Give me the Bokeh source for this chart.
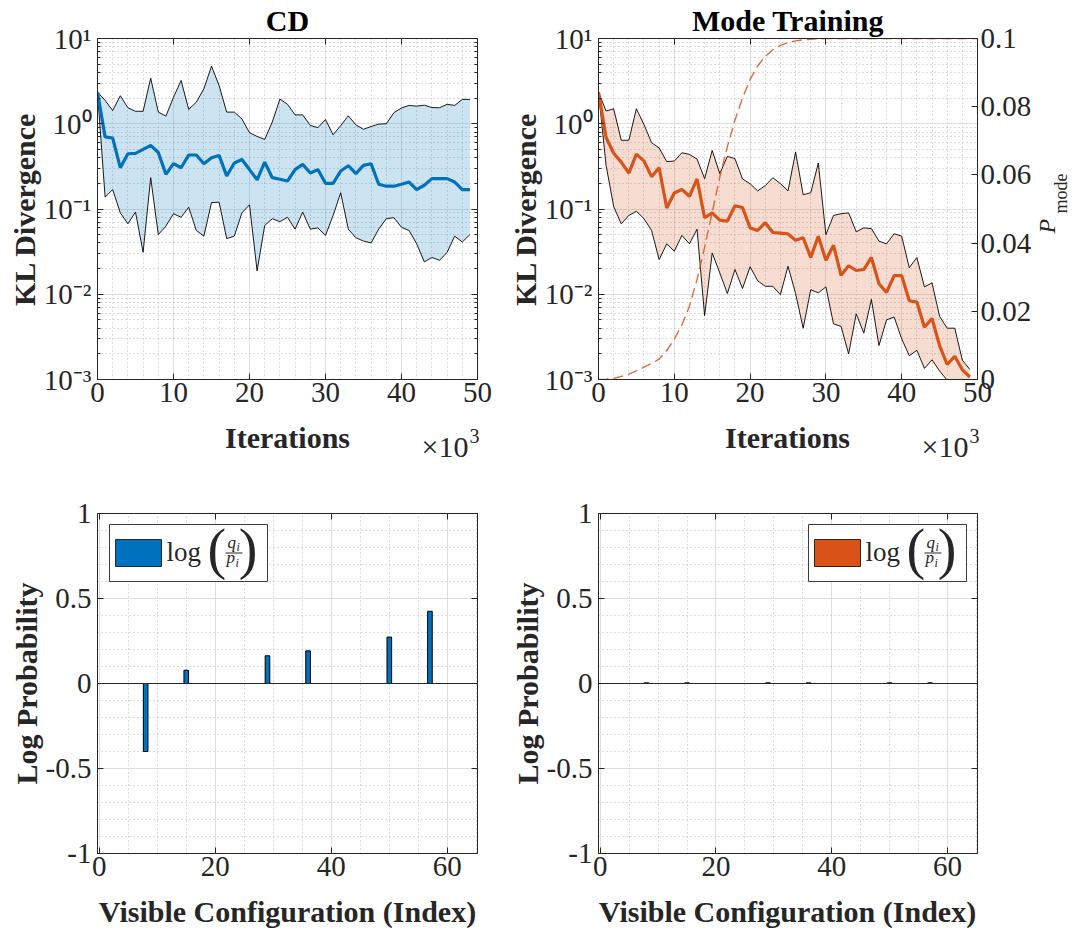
from bokeh.plotting import figure
from bokeh.layouts import row, column
from bokeh.models import (Range1d, LinearAxis, LogAxis, FixedTicker, LinearScale,
                          CustomJSTickFormatter, Label, BoxAnnotation, Span)
from bokeh.embed import file_html
from bokeh.resources import INLINE

# ---------------- data ----------------
iterations = list(range(50))  # in units of 10^3

cd_mean = [2.35, 0.70, 0.68, 0.305, 0.445, 0.45, 0.50, 0.557, 0.46, 0.255,
           0.34, 0.305, 0.43, 0.43, 0.34, 0.40, 0.425, 0.244, 0.346, 0.38,
           0.29, 0.22, 0.355, 0.233, 0.223, 0.213, 0.29, 0.334, 0.264, 0.29,
           0.20, 0.20, 0.279, 0.322, 0.26, 0.325, 0.34, 0.195, 0.185, 0.185,
           0.195, 0.207, 0.169, 0.19, 0.227, 0.227, 0.227, 0.207, 0.169, 0.169]
cd_upper = [2.35, 1.88, 1.43, 2.13, 1.54, 1.40, 1.40, 3.43, 1.37, 1.23,
            2.05, 3.22, 1.47, 1.79, 2.57, 4.74, 2.81, 1.37, 1.37, 1.14,
            0.785, 0.71, 0.655, 1.05, 1.95, 1.69, 1.27, 1.27, 0.956, 0.90,
            1.12, 0.743, 0.95, 1.24, 0.97, 0.86, 0.93, 0.99, 1.0, 1.35,
            1.53, 1.64, 1.61, 1.65, 1.55, 1.54, 1.69, 1.64, 1.93, 1.93]
cd_lower = [2.35, 0.138, 0.169, 0.090, 0.067, 0.092, 0.031, 0.233, 0.050, 0.063,
            0.088, 0.080, 0.105, 0.056, 0.048, 0.119, 0.12, 0.045, 0.048, 0.090,
            0.112, 0.0188, 0.064, 0.077, 0.071, 0.080, 0.058, 0.092, 0.058, 0.060,
            0.049, 0.084, 0.155, 0.058, 0.046, 0.042, 0.040, 0.058, 0.077, 0.079,
            0.061, 0.056, 0.039, 0.024, 0.027, 0.025, 0.031, 0.048, 0.041, 0.050]

mt_mean = [2.35, 0.69, 0.45, 0.355, 0.264, 0.44, 0.365, 0.24, 0.305, 0.103,
           0.154, 0.169, 0.141, 0.225, 0.079, 0.090, 0.074, 0.072, 0.109, 0.104,
           0.060, 0.056, 0.069, 0.053, 0.052, 0.051, 0.043, 0.046, 0.027, 0.048,
           0.025, 0.0375, 0.0167, 0.0216, 0.019, 0.0195, 0.027, 0.0133, 0.0105, 0.0165,
           0.0165, 0.0084, 0.0081, 0.0041, 0.0052, 0.0025, 0.0015, 0.00187, 0.0013, 0.00107]
mt_upper = [2.35, 1.41, 1.50, 0.64, 0.64, 1.50, 0.98, 0.60, 0.52, 0.36,
            0.365, 0.457, 0.437, 0.385, 0.227, 0.487, 0.26, 0.414, 0.39, 0.225,
            0.198, 0.163, 0.188, 0.233, 0.198, 0.163, 0.466, 0.147, 0.155, 0.346,
            0.050, 0.084, 0.088, 0.090, 0.054, 0.060, 0.059, 0.042, 0.039, 0.0513,
            0.048, 0.0205, 0.027, 0.0122, 0.0136, 0.0055, 0.0040, 0.0040, 0.00169, 0.00131]
mt_lower = [2.35, 0.325, 0.107, 0.067, 0.084, 0.094, 0.077, 0.056, 0.0255, 0.039,
            0.032, 0.049, 0.039, 0.058, 0.0056, 0.0305, 0.0178, 0.0102, 0.0195, 0.0117,
            0.021, 0.0144, 0.0124, 0.0124, 0.0099, 0.0213, 0.0102, 0.0040, 0.0113, 0.0104,
            0.0122, 0.0045, 0.0042, 0.0020, 0.0059, 0.0035, 0.0087, 0.0025, 0.0050, 0.0054,
            0.0030, 0.0019, 0.0022, 0.00135, 0.0017, 0.00126, 0.00098, 0.00094, 0.0008, 0.0007]

pmode_iter = list(range(51))
p_mode = [0.0000, 0.0001, 0.0003, 0.0009, 0.0016, 0.0025, 0.0036, 0.0047, 0.0060, 0.0085,
          0.0118, 0.0160, 0.0215, 0.0293, 0.0388, 0.0490, 0.0593, 0.0683, 0.0760, 0.0826,
          0.0880, 0.0920, 0.0947, 0.0967, 0.0980, 0.0988, 0.0993, 0.0996, 0.0998, 0.0999,
          0.1000, 0.1000, 0.1000, 0.1000, 0.1000, 0.1000, 0.1000, 0.1000, 0.1000, 0.1000,
          0.1000, 0.1000, 0.1000, 0.1000, 0.1000, 0.1000, 0.1000, 0.1000, 0.1000, 0.1000,
          0.1000]

config_index = [8, 15, 29, 36, 50, 57]
cd_log_ratio = [-0.40, 0.078, 0.163, 0.192, 0.273, 0.425]
mt_log_ratio = [0.004, 0.004, 0.004, 0.004, 0.004, 0.004]

# tick positions
iter_major = [0, 10, 20, 30, 40, 50]
iter_minor = [v for v in range(0, 51, 2) if v % 10]
kl_major = [1e-3, 1e-2, 1e-1, 1e0, 1e1]
kl_minor = [m * 10.0 ** e for e in range(-3, 1) for m in range(2, 10)]
pm_major = [0, 0.02, 0.04, 0.06, 0.08, 0.1]
cfg_major = [0, 20, 40, 60]
cfg_minor = [v for v in range(5, 66, 5) if v % 20]
lp_major = [-1, -0.5, 0, 0.5, 1]
lp_minor = [round(-1 + 0.1 * k, 1) for k in range(21) if k % 5]

# ---------------- style ----------------
FONT = "Liberation Serif"
AX = "#262626"
BLUE = "#0072BD"
ORANGE = "#D95319"
TICK_FS = "29px"
LAB_FS = "30px"

LOG_CODE = """
const sup = {"-": "\\u207B", "0": "\\u2070", "1": "\\u00B9", "2": "\\u00B2", "3": "\\u00B3"};
const e = Math.round(Math.log10(tick));
return "10" + String(e).split("").map(c => sup[c]).join("");
"""
NUM_CODE = "return String(Math.round(tick * 100) / 100);"
EMPTY_CODE = "return '';"

W_LEFT, W_RIGHT, W_STRIP = 505, 529, 39
H_TOP, H_TOP_STRIP, H_BOT, H_BOT_STRIP = 420, 60, 412, 42


def style_axis(ax, show=True, standoff=6):
    ax.axis_line_color = AX
    ax.axis_line_width = 1
    ax.major_tick_line_color = AX
    ax.minor_tick_line_color = AX
    ax.major_tick_in = 6
    ax.major_tick_out = 0
    ax.minor_tick_in = 0
    ax.minor_tick_out = 0
    ax.major_label_text_font = FONT
    ax.major_label_text_color = AX
    ax.major_label_text_font_size = TICK_FS if show else "0px"
    ax.major_label_standoff = standoff if show else 0
    ax.axis_label_text_font = FONT
    ax.axis_label_text_font_size = LAB_FS
    ax.axis_label_text_font_style = "bold"
    ax.axis_label_text_color = AX
    ax.axis_label_standoff = 0


def style_grid(p):
    for g in p.grid:
        g.grid_line_color = "#dedede"
        g.grid_line_width = 1
        g.minor_grid_line_color = "#b8b8b8"
        g.minor_grid_line_dash = "1 3"
        g.minor_grid_line_width = 1
    p.outline_line_color = AX
    p.outline_line_width = 1
    p.outline_line_alpha = 1
    p.background_fill_color = "white"
    p.border_fill_color = "white"


def add_text(p, text, x, y, size, style="normal", align="left", angle=0.0):
    # (x, y) is the centre line of the text box, in pixels from the frame's
    # bottom-left corner
    p.add_layout(Label(x=x, y=y, x_units="screen", y_units="screen", text=text,
                       text_font=FONT, text_font_size=size,
                       text_font_style=style, text_color=AX,
                       text_align=align, text_baseline="middle",
                       angle=angle))


def strip(w, h):
    s = figure(width=w, height=h, x_range=Range1d(0, w), y_range=Range1d(0, h),
               title=None, output_backend="svg", toolbar_location=None,
               x_axis_location=None, y_axis_location=None,
               min_border_left=0, min_border_right=0,
               min_border_top=0, min_border_bottom=0, frame_align=False)
    s.grid.visible = False
    s.outline_line_color = None
    s.background_fill_color = "white"
    s.border_fill_color = "white"
    return s


def kl_figure(title, mean, upper, lower, color, first):
    if first:
        w, bl, br = W_LEFT, 97, 28
    else:
        w, bl, br = W_RIGHT, 92, W_RIGHT - 92 - 380
    p = figure(width=w, height=H_TOP, title=title,
               x_range=Range1d(0, 50), y_range=Range1d(1e-3, 10),
               y_axis_type="log", output_backend="svg", toolbar_location=None,
               min_border_left=bl, min_border_right=br,
               min_border_top=38, min_border_bottom=H_TOP - 38 - 341)
    p.title.align = "center"
    p.title.text_font = FONT
    p.title.text_font_size = LAB_FS
    p.title.text_font_style = "bold"
    p.title.text_color = "black"
    p.title.standoff = 3
    p.title.offset = 0

    p.xaxis.ticker = FixedTicker(ticks=iter_major, minor_ticks=iter_minor)
    p.yaxis.ticker = FixedTicker(ticks=kl_major, minor_ticks=kl_minor)
    p.yaxis.formatter = CustomJSTickFormatter(code=LOG_CODE)
    p.yaxis.axis_label = "KL Divergence"
    style_axis(p.xaxis[0], standoff=3)
    style_axis(p.yaxis[0], standoff=6)
    p.yaxis[0].minor_tick_in = 3

    top = LinearAxis(ticker=FixedTicker(ticks=iter_major),
                     formatter=CustomJSTickFormatter(code=EMPTY_CODE))
    style_axis(top, show=False)
    p.add_layout(top, "above")

    if first:
        right = LogAxis(ticker=FixedTicker(ticks=kl_major, minor_ticks=kl_minor),
                        formatter=CustomJSTickFormatter(code=EMPTY_CODE))
        style_axis(right, show=False)
        right.minor_tick_in = 3
        p.add_layout(right, "right")
    else:
        p.extra_y_ranges = {"pm": Range1d(0, 0.1)}
        p.extra_y_scales = {"pm": LinearScale()}
        right = LinearAxis(y_range_name="pm", ticker=FixedTicker(ticks=pm_major),
                           formatter=CustomJSTickFormatter(code=NUM_CODE))
        style_axis(right, standoff=3)
        p.add_layout(right, "right")

    style_grid(p)

    p.varea(x=iterations, y1=lower, y2=upper, fill_color=color, fill_alpha=0.2)
    p.line(iterations, upper, line_color="black", line_width=0.9)
    p.line(iterations, lower, line_color="black", line_width=0.9)
    p.line(iterations, mean, line_color=color, line_width=3.2)

    if not first:
        p.line(pmode_iter, p_mode, y_range_name="pm", line_color=ORANGE,
               line_alpha=0.85, line_width=1.4, line_dash="10 5")
    return p


def kl_strip(w, center_x, right_x):
    s = strip(w, H_TOP_STRIP)
    add_text(s, "Iterations", center_x, 43, LAB_FS, style="bold", align="center")
    add_text(s, "\u00d710", right_x, 34, "30px", align="right")
    add_text(s, "3", right_x + 1, 45, "20px")
    return s


def bar_figure(values, color, first, legend_x):
    if first:
        w, bl, br = W_LEFT, 97, 28
    else:
        w, bl, br = W_RIGHT, 92, W_RIGHT - 92 - 380
    p = figure(width=w, height=H_BOT, title=None,
               x_range=Range1d(-0.3, 65.2), y_range=Range1d(-1, 1),
               output_backend="svg", toolbar_location=None,
               min_border_left=bl, min_border_right=br,
               min_border_top=33, min_border_bottom=H_BOT - 33 - 340)
    p.xaxis.ticker = FixedTicker(ticks=cfg_major, minor_ticks=cfg_minor)
    p.yaxis.ticker = FixedTicker(ticks=lp_major, minor_ticks=lp_minor)
    p.xaxis.formatter = CustomJSTickFormatter(code=NUM_CODE)
    p.yaxis.formatter = CustomJSTickFormatter(code=NUM_CODE)
    p.yaxis.axis_label = "Log Probability"
    style_axis(p.xaxis[0], standoff=3)
    style_axis(p.yaxis[0], standoff=6)

    top = LinearAxis(ticker=FixedTicker(ticks=cfg_major),
                     formatter=CustomJSTickFormatter(code=EMPTY_CODE))
    style_axis(top, show=False)
    p.add_layout(top, "above")
    right = LinearAxis(ticker=FixedTicker(ticks=lp_major),
                       formatter=CustomJSTickFormatter(code=EMPTY_CODE))
    style_axis(right, show=False)
    p.add_layout(right, "right")
    style_grid(p)

    p.vbar(x=config_index, top=values, width=0.8, fill_color=color,
           line_color="black", line_width=1)
    p.add_layout(Span(location=0, dimension="width", line_color=AX, line_width=1))

    # legend box: log(q_i / p_i)
    x0 = legend_x
    p.add_layout(BoxAnnotation(left=x0, right=x0 + 158, bottom=272, top=329,
                               left_units="screen", right_units="screen",
                               top_units="screen", bottom_units="screen",
                               fill_color="white", fill_alpha=1,
                               line_color=AX, line_width=0.9, line_alpha=1))
    p.add_layout(BoxAnnotation(left=x0 + 6, right=x0 + 52, bottom=287, top=314,
                               left_units="screen", right_units="screen",
                               top_units="screen", bottom_units="screen",
                               fill_color=color, fill_alpha=1,
                               line_color=AX, line_width=1, line_alpha=1))
    add_text(p, "log", x0 + 57, 302, "27px")
    add_text(p, "(", x0 + 98, 305, "56px")
    add_text(p, ")", x0 + 148, 305, "56px", align="right")
    add_text(p, "q", x0 + 118, 311, "17px", style="italic")
    add_text(p, "i", x0 + 127, 307, "12px", style="italic")
    p.add_layout(BoxAnnotation(left=x0 + 116, right=x0 + 133, bottom=300, top=301,
                               left_units="screen", right_units="screen",
                               top_units="screen", bottom_units="screen",
                               fill_color=AX, fill_alpha=1, line_color=None))
    add_text(p, "p", x0 + 117, 296, "17px", style="italic")
    add_text(p, "i", x0 + 126, 291, "12px", style="italic")
    return p


def bar_strip(w, center_x):
    s = strip(w, H_BOT_STRIP)
    add_text(s, "Visible Configuration (Index)", center_x, 23, LAB_FS,
             style="bold", align="center")
    return s


p1 = kl_figure("CD", cd_mean, cd_upper, cd_lower, BLUE, True)
p2 = kl_figure("Mode Training", mt_mean, mt_upper, mt_lower, ORANGE, False)
s1 = kl_strip(W_LEFT, 97 + 190, 468)
s2 = kl_strip(W_RIGHT, 92 + 190, 92 + 380 - 9)
p3 = bar_figure(cd_log_ratio, BLUE, True, 12)
p4 = bar_figure(mt_log_ratio, ORANGE, False, 210)
s3 = bar_strip(W_LEFT, 97 + 190)
s4 = bar_strip(W_RIGHT, 92 + 190)

# right-hand strip carrying the P_mode axis label
ps = strip(W_STRIP, H_TOP + H_TOP_STRIP)
add_text(ps, "P", 12, 247, "24px", style="italic", angle=1.5707963)
add_text(ps, "mode", 26, 267, "18px", angle=1.5707963)

layout = row(column(p1, s1, p3, s3), column(p2, s2, p4, s4), column(ps))

with open("out.html", "w", encoding="utf-8") as f:
    f.write(file_html(layout, INLINE))
